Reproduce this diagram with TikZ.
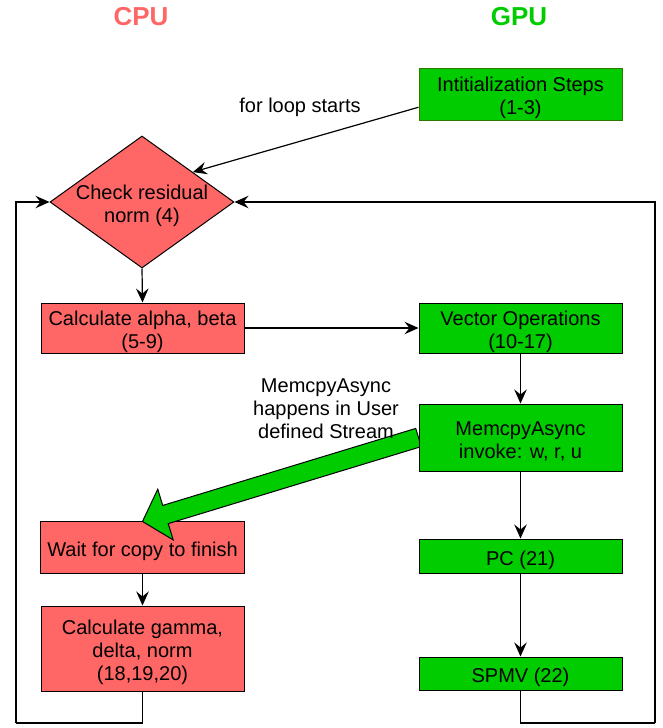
\documentclass[tikz,border=0pt]{standalone}
\usepackage{fontspec}
\setmainfont{Liberation Sans}
\usetikzlibrary{shapes.geometric,arrows.meta,calc}
\definecolor{cpured}{HTML}{FF6666}
\definecolor{gpugreen}{HTML}{00CC00}
\definecolor{initedge}{HTML}{2D7600}
\pgfdeclarelayer{background}
\pgfdeclarelayer{mid}
\pgfsetlayers{background,mid,main}
\begin{document}
\begin{tikzpicture}[x=1pt,y=-1pt,
  txt/.style={font=\fontsize{20}{23}\selectfont, align=center, inner sep=0pt},
  lone/.style={text height=18.5pt, text depth=0.5pt},
  ltwo/.style={text height=41.5pt, text depth=0.5pt},
  lthree/.style={text height=64.5pt, text depth=0.5pt},
  box/.style={txt, rectangle, draw=black, line width=1pt, minimum width=203pt},
  cpubox/.style={box, fill=cpured},
  gpubox/.style={box, fill=gpugreen},
  conn/.style={line width=1.2pt, -{Stealth[length=14pt,width=12.5pt,inset=5pt]}},
  wire/.style={line width=1.2pt},
  title/.style={font=\fontsize{26}{30}\selectfont\bfseries, inner sep=0pt}
]
\useasboundingbox (0,0) rectangle (662,728);

% titles
\node[title, text=cpured] (cputitle) at (141,17) {CPU};
\node[title, text=gpugreen] (gputitle) at (519,17) {GPU};

% GPU column
\node[gpubox, ltwo, draw=initedge, minimum height=52pt] (init) at (520.5,94) {Intitialization Steps\\(1-3)};
\node[gpubox, ltwo, minimum height=50pt] (vec) at (520.5,328) {Vector Operations\\(10-17)};
\node[gpubox, ltwo, minimum height=67pt] (mem) at (520.5,437.5) {MemcpyAsync\\invoke: w, r, u};
\node[gpubox, lone, minimum height=34pt] (pc) at (520.5,556) {PC (21)};
\node[gpubox, lone, minimum height=33pt] (spmv) at (520.5,673.5) {SPMV (22)};

% CPU column
\node[diamond, draw=black, fill=cpured, line width=1pt, inner sep=0pt,
      minimum width=184pt, minimum height=132pt] (dia) at (142,202) {};
\node[txt, ltwo] (diatext) at (dia.center) {Check residual\\norm (4)};
\node[cpubox, ltwo, minimum height=50pt] (calc) at (142.5,328) {Calculate alpha, beta\\(5-9)};
\node[box, lone, draw=none, minimum height=51pt] (wait) at (142.5,547.5) {Wait for copy to finish};
\begin{pgfonlayer}{background}
  \filldraw[fill=cpured, draw=black, line width=1pt] (wait.south west) rectangle (wait.north east);
\end{pgfonlayer}
\node[cpubox, lthree, minimum height=85pt] (gam) at (142.5,648.5) {Calculate gamma,\\delta, norm\\(18,19,20)};

% free labels
\node[txt, lone] (looplabel) at (300,103) {for loop starts};
\node[txt, lthree] (streamlabel) at (326,406) {MemcpyAsync\\happens in User\\defined Stream};

% connectors
\draw[conn] ($(init.south west)!0.25!(init.north west)$) -- ($(dia.north)!0.55!(dia.east)$);
\draw[conn] (dia.south) -- (calc.north);
\draw[conn] (calc.east) -- (vec.west);
\draw[conn] (vec.south) -- (mem.north);
\draw[conn] (mem.south) -- (pc.north);
\draw[conn] (pc.south) -- (spmv.north);
\draw[conn] (wait.south) -- (gam.north);

\coordinate (lb) at (16,723);
\coordinate (rb) at (655,723);
\draw[wire] (gam.south) |- (lb);
\draw[conn] (lb) |- (dia.west);
\draw[wire] (spmv.south) |- (rb);
\draw[conn] (rb) |- (dia.east);

% big green arrow
\coordinate (bs) at (mem.west);
\coordinate (bt) at (wait.north);
\coordinate (bh) at ($(bt)!24pt!(bs)$);
\begin{pgfonlayer}{mid}
\filldraw[fill=gpugreen, draw=black, line width=1pt, line join=miter]
  (bt) -- ($(bh)!26.5pt!90:(bt)$) -- ($(bh)!9.5pt!90:(bt)$)
  -- ($(bs)!9.5pt!90:(bt)$) -- ($(bs)!9.5pt!-90:(bt)$)
  -- ($(bh)!9.5pt!-90:(bt)$) -- ($(bh)!26.5pt!-90:(bt)$) -- cycle;
\end{pgfonlayer}
\end{tikzpicture}
\end{document}
